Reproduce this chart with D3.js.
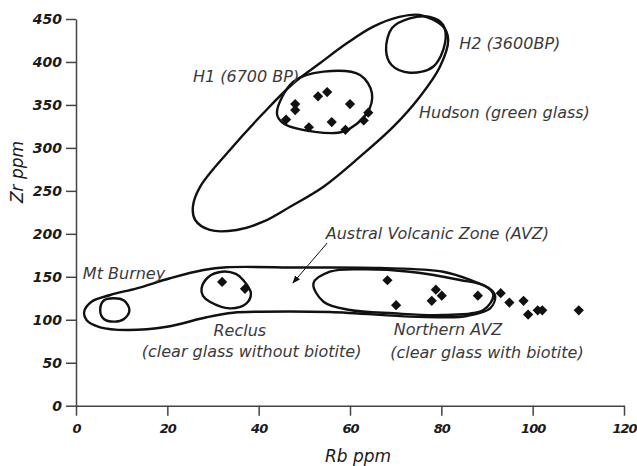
<!DOCTYPE html>
<html>
<head>
<meta charset="utf-8">
<script src="https://cdn.jsdelivr.net/npm/d3@7"></script>
<style>
  body { margin: 0; background: #fff; }
  svg { display: block; }
</style>
</head>
<body>
<svg></svg>
<script>
// tick labels
let xTicks = [0, 20, 40, 60, 80, 100, 120];
let yTicks = [0, 50, 100, 150, 200, 250, 300, 350, 400, 450];

// samples: Rb ppm, Zr ppm
let rb = [48, 48, 46, 51, 53, 55, 56, 60, 59, 63, 64,
          32, 37,
          68.2, 70.1, 77.9, 78.8, 80.1, 88, 93, 94.9, 98, 99, 101.1, 102.1, 110.1];
let zr = [351, 344, 333, 324, 360, 365, 330, 351, 321, 332, 341,
          144, 136,
          146, 117, 122, 135, 128, 128, 131, 120, 122, 106, 111, 111, 111];

// hand drawn field outlines, [Rb, Zr]
let hudson = [[25.6, 231.6], [27.2, 254.9], [33.7, 297.6], [41.0, 340.3], [47.6, 375.2], [53.4, 398.5],
              [59.3, 421.7], [65.1, 441.1], [71.0, 452.7], [75.3, 454.7], [80.4, 441.1], [81.5, 425.6],
              [79.7, 394.5], [75.3, 359.6], [69.5, 324.7], [62.2, 289.8], [54.2, 254.9], [46.9, 231.6],
              [41.0, 214.1], [35.2, 204.5], [29.3, 204.5], [26.1, 216.1]];
let h2 = [[67.9, 413.9], [69.2, 439.5], [73.1, 450.8], [77.5, 452.3], [80.4, 443.0], [80.8, 421.7],
          [78.2, 394.5], [73.1, 387.5], [69.1, 396.5]];
let h1 = [[44.0, 340.3], [47.6, 377.1], [54.2, 388.7], [62.2, 384.8], [64.8, 363.6], [63.7, 340.3],
          [58.5, 318.9], [52.0, 318.9], [45.4, 328.6]];
let avz = [[1.8, 109.4], [3.4, 121.0], [7.5, 128.8], [13.3, 136.6], [20.6, 148.3], [27.9, 157.9],
           [33.0, 161.1], [49.1, 160.8], [66.6, 160.2], [80.4, 155.9], [86.3, 146.3], [91.0, 134.6],
           [91.8, 126.8], [90.7, 113.3], [85.6, 104.4], [80.4, 102.9], [73.1, 103.6], [55.6, 109.0],
           [40.3, 109.4], [34.4, 108.2], [28.6, 102.9], [19.9, 91.9], [11.1, 88.1], [5.3, 91.2], [2.3, 99.7]];
let burney = [[5.3, 111.4], [6.1, 122.4], [8.2, 125.0], [10.5, 122.4], [11.7, 111.4], [10.5, 100.9],
              [8.5, 97.8], [6.1, 100.9]];
let reclus = [[27.5, 136.6], [29.0, 149.8], [31.9, 155.9], [35.0, 153.3], [36.6, 146.3], [38.3, 130.8],
              [37.2, 118.4], [33.7, 113.3], [29.3, 121.0], [27.8, 127.7]];
let northern = [[52.0, 142.4], [55.6, 155.9], [62.2, 158.7], [73.1, 155.9], [84.1, 146.3], [89.6, 139.3],
                [91.4, 128.8], [89.2, 111.4], [80.4, 105.6], [69.5, 107.5], [60.0, 111.4], [54.2, 121.0]];

// labels, placed at [Rb, Zr] of their start
let labelText = ['H1 (6700 BP)', 'H2 (3600BP)', 'Hudson (green glass)', 'Austral Volcanic Zone (AVZ)',
                 'Mt Burney', 'Reclus', '(clear glass without biotite)', 'Northern AVZ', '(clear glass with biotite)'];
let labelRb = [25.6, 83.9, 75.1, 54.7, 1.5, 30.1, 14.4, 69.6, 68.8];
let labelZr = [376.7, 415.1, 334.8, 194.0, 147.4, 81.1, 56.7, 82.3, 55.6];

let arrowFrom = [55.0, 189.3];
let arrowTo = [47.5, 142.8];

let svg = d3.select('svg');
let width = 637;
let height = 466;

svg.attr('width', width).attr('height', height);

let xScale = d3.scaleLinear().domain([0, 120]).range([76, 624]);
let yScale = d3.scaleLinear().domain([0, 450]).range([405.7, 19]);

// axes
let xAxis = d3.axisBottom(xScale).tickValues(xTicks).tickSize(10).tickSizeOuter(0).tickPadding(8);
let yAxis = d3.axisLeft(yScale).tickValues(yTicks).tickSize(10).tickSizeOuter(0).tickPadding(4);

let gx = svg.append('g')
    .attr('transform', 'translate(0,' + yScale(0) + ')')
    .call(xAxis);
let gy = svg.append('g')
    .attr('transform', 'translate(' + xScale(0) + ',0)')
    .call(yAxis);

[gx, gy].forEach(g => {
    g.selectAll('path, line').attr('stroke', '#444').attr('stroke-width', 1.5);
    g.selectAll('text')
        .attr('font-family', 'DejaVu Sans')
        .attr('font-weight', 'bold')
        .attr('font-style', 'italic')
        .attr('font-size', 14)
        .attr('fill', '#1a1a1a');
});
// x labels a little tighter so "120" stays inside the frame
gx.selectAll('text').attr('font-size', 13).attr('letter-spacing', -1);

svg.append('text')
    .attr('x', 358).attr('y', 462)
    .attr('text-anchor', 'middle')
    .attr('font-family', 'DejaVu Sans')
    .attr('font-style', 'italic')
    .attr('font-size', 17)
    .attr('fill', '#1a1a1a')
    .text('Rb ppm');

svg.append('text')
    .attr('transform', 'translate(23,172) rotate(-90)')
    .attr('text-anchor', 'middle')
    .attr('font-family', 'DejaVu Sans')
    .attr('font-style', 'italic')
    .attr('font-size', 17)
    .attr('fill', '#1a1a1a')
    .text('Zr ppm');

// outlines
let outline = d3.line()
    .x(d => xScale(d[0]))
    .y(d => yScale(d[1]))
    .curve(d3.curveCatmullRomClosed.alpha(0.5));

[hudson, h2, h1, avz, burney, reclus, northern].forEach(shape => {
    svg.append('path')
        .attr('d', outline(shape))
        .attr('fill', 'none')
        .attr('stroke', '#111')
        .attr('stroke-width', 2.4);
});

// arrow
svg.append('defs').append('marker')
    .attr('id', 'head')
    .attr('viewBox', '0 0 10 10')
    .attr('refX', 9).attr('refY', 5)
    .attr('markerWidth', 8).attr('markerHeight', 8)
    .attr('orient', 'auto')
    .append('path')
    .attr('d', 'M0,1 L10,5 L0,9 Z')
    .attr('fill', '#111');

svg.append('line')
    .attr('x1', xScale(arrowFrom[0])).attr('y1', yScale(arrowFrom[1]))
    .attr('x2', xScale(arrowTo[0])).attr('y2', yScale(arrowTo[1]))
    .attr('stroke', '#111')
    .attr('stroke-width', 1)
    .attr('marker-end', 'url(#head)');

// points
svg.append('g')
    .selectAll('path')
    .data(rb.map((v, i) => [v, zr[i]]))
    .enter()
    .append('path')
    .attr('d', d3.symbol(d3.symbolSquare).size(52))
    .attr('transform', d => 'translate(' + xScale(d[0]) + ',' + yScale(d[1]) + ') rotate(45)')
    .attr('fill', '#111');

// labels
svg.append('g')
    .selectAll('text')
    .data(labelText)
    .enter()
    .append('text')
    .attr('x', (d, i) => xScale(labelRb[i]))
    .attr('y', (d, i) => yScale(labelZr[i]))
    .attr('font-family', 'DejaVu Sans')
    .attr('font-weight', 200)
    .attr('font-style', 'italic')
    .attr('font-size', 16)
    .attr('fill', '#3a3a3a')
    .text(d => d);
</script>
</body>
</html>
